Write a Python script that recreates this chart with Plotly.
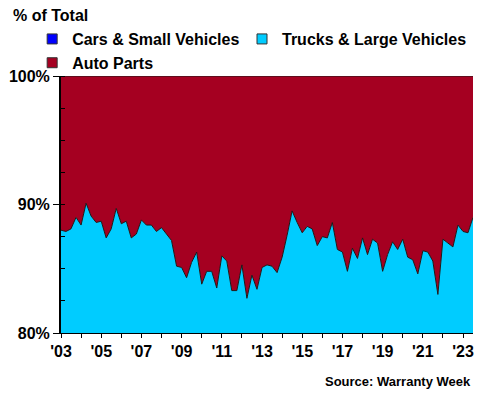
import pandas as pd
import plotly.graph_objects as go

# Quarterly periods, 2003 Q1 .. 2023 Q3
quarters = pd.date_range("2003-01-01", "2023-07-01", freq="QS")

# Cumulative share (%) of vehicle warranty claims (cars + trucks), i.e. top of the cyan area.
# Cars & small vehicles lie entirely below the 80% axis floor.
vehicles_cum_pct = [
    88.0, 87.9, 88.1, 89.0, 88.4, 90.1, 89.1, 88.6, 88.7, 87.4,
    88.1, 89.7, 88.5, 88.7, 87.4, 87.7, 88.8, 88.4, 88.4, 87.9,
    88.2, 87.7, 87.2, 85.2, 85.1, 84.3, 85.5, 86.3, 83.8, 84.8,
    84.8, 83.5, 86.0, 85.6, 83.3, 83.3, 85.3, 82.7, 84.5, 83.4,
    85.1, 85.3, 85.2, 84.7, 85.9, 87.6, 89.5, 88.6, 87.8, 88.3,
    88.1, 86.8, 87.5, 87.4, 88.6, 86.5, 86.3, 84.8, 86.6, 85.8,
    87.4, 86.1, 87.3, 87.0, 84.8, 86.1, 87.1, 86.5, 87.3, 85.9,
    85.7, 84.6, 86.4, 86.3, 85.6, 83.0, 87.3, 87.0, 86.7, 88.4,
    87.9, 87.8, 89.0,
]
auto_parts_pct = [round(100 - v, 1) for v in vehicles_cum_pct]

series_names = ["Cars & Small Vehicles", "Trucks & Large Vehicles", "Auto Parts"]
series_colors = ["#0000FF", "#00CCFF", "#A50021"]
legend_slots = ["legend", "legend2", "legend"]

y_tickvals = [80, 90, 100]
y_ticktext = ["80%", "90%", "100%"]

FONT = "Liberation Sans, Arial, sans-serif"
LEG_FONT = dict(family=FONT, size=16, color="black", weight="bold")

fig = go.Figure()

# stacked areas
fig.add_trace(go.Scatter(
    x=quarters, y=vehicles_cum_pct, stackgroup="one", mode="lines",
    line=dict(color="#1a1a1a", width=1), fillcolor=series_colors[1],
    showlegend=False, hoverinfo="skip"))
fig.add_trace(go.Scatter(
    x=quarters, y=auto_parts_pct, stackgroup="one", mode="lines",
    line=dict(color="#1a1a1a", width=1), fillcolor=series_colors[2],
    showlegend=False, hoverinfo="skip"))

# legend entries
for name, col, slot in zip(series_names, series_colors, legend_slots):
    fig.add_trace(go.Scatter(
        x=[None], y=[None], mode="markers", name=name, legend=slot,
        marker=dict(symbol="square", size=10, color=col,
                    line=dict(color="#333333", width=1))))

fig.update_layout(
    width=480, height=400,
    margin=dict(l=61, r=7, t=76, b=67, autoexpand=False),
    paper_bgcolor="white", plot_bgcolor="white",
    font=dict(family=FONT, size=16, color="black", weight="bold"),
    title=dict(text="% of Total", x=13/480, xanchor="left", xref="container",
               y=1 - 15/400, yanchor="middle", yref="container",
               font=dict(family=FONT, size=16, color="black", weight="bold")),
    legend=dict(orientation="v", x=-0.07, xanchor="left", y=1.21, yanchor="top",
                traceorder="normal", font=LEG_FONT,
                bgcolor="rgba(0,0,0,0)", tracegroupgap=0, itemwidth=30),
    legend2=dict(orientation="v", x=(242 - 61) / 412, xanchor="left", y=1.21, yanchor="top",
                 traceorder="normal", font=LEG_FONT,
                 bgcolor="rgba(0,0,0,0)", tracegroupgap=0, itemwidth=30),
    showlegend=True,
)

fig.update_xaxes(
    type="date", range=["2003-01-01", "2023-07-01"],
    showgrid=False, zeroline=False,
    showline=True, linecolor="black", linewidth=1,
    tick0="2003-01-01", dtick="M24", tickformat="'%y",
    ticks="outside", ticklen=4, tickcolor="black",
    tickfont=dict(family=FONT, size=16, color="black", weight="bold"),
    minor=dict(dtick="M12", ticks="outside", ticklen=4, tickcolor="black"),
)
fig.update_yaxes(
    range=[80, 100], tickmode="array", tickvals=y_tickvals, ticktext=y_ticktext,
    showgrid=False, zeroline=False,
    showline=True, linecolor="black", linewidth=2,
    ticks="outside", ticklen=6, tickcolor="black",
    tickfont=dict(family=FONT, size=16, color="black", weight="bold"),
    minor=dict(dtick=2.5, tick0=80, ticks="inside", ticklen=4, tickcolor="black"),
)

fig.add_annotation(
    text="Source: Warranty Week", xref="paper", yref="paper",
    x=1.0, xanchor="right", y=-0.19, yanchor="middle", showarrow=False,
    font=dict(family=FONT, size=13, color="black", weight="bold"))

fig.write_html("out.html", config={"displayModeBar": False},
               post_script="document.body.style.margin='0';document.body.style.overflow='hidden';")
